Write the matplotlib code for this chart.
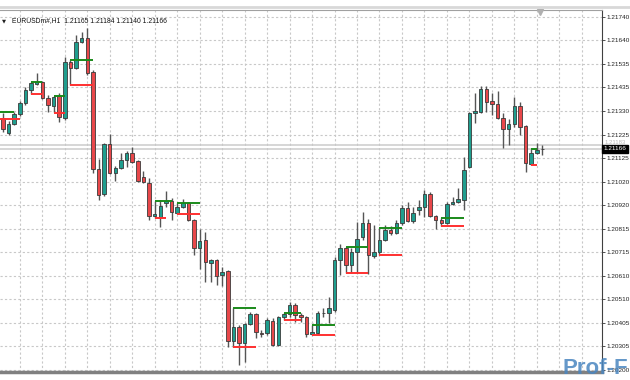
import matplotlib
matplotlib.use("Agg")
import matplotlib.pyplot as plt
import numpy as np

symbol_title = "EURUSDm#,H1  1.21165 1.21184 1.21140 1.21166"

opens = [1.21301, 1.21236, 1.21275, 1.21319, 1.21366, 1.21423, 1.21449, 1.21458, 1.21388, 1.21353,
         1.21397, 1.21301, 1.21545, 1.21519, 1.21632, 1.21650, 1.21502, 1.21079, 1.20969, 1.21188,
         1.21061, 1.21083, 1.21118, 1.21148, 1.21113, 1.21044, 1.21017, 1.20873, 1.20869, 1.20930,
         1.20939, 1.20887, 1.20913, 1.20930, 1.20856, 1.20734, 1.20769, 1.20669, 1.20682, 1.20616,
         1.20633, 1.20328, 1.20389, 1.20320, 1.20402, 1.20446, 1.20363, 1.20363, 1.20416, 1.20311,
         1.20433, 1.20446, 1.20486, 1.20442, 1.20433, 1.20359, 1.20363, 1.20451, 1.20451, 1.20464,
         1.20682, 1.20734, 1.20660, 1.20717, 1.20782, 1.20843, 1.20699, 1.20717, 1.20769, 1.20813,
         1.20800, 1.20843, 1.20909, 1.20852, 1.20900, 1.20913, 1.20970, 1.20873, 1.20856, 1.20843,
         1.20926, 1.20935, 1.20943, 1.21087, 1.21323, 1.21327, 1.21427, 1.21375, 1.21362, 1.21301,
         1.21253, 1.21275, 1.21353, 1.21266, 1.21100, 1.21148, 1.21165]
highs = [1.21323, 1.21288, 1.21327, 1.21375, 1.21436, 1.21458, 1.21497, 1.21462, 1.21401, 1.21397,
         1.21410, 1.21567, 1.21554, 1.21663, 1.21676, 1.21693, 1.21510, 1.21122, 1.21192, 1.21231,
         1.21092, 1.21148, 1.21157, 1.21174, 1.21118, 1.21070, 1.21039, 1.20939, 1.20943, 1.20983,
         1.20952, 1.20930, 1.20948, 1.20935, 1.20861, 1.20817, 1.20804, 1.20686, 1.20686, 1.20651,
         1.20638, 1.20472, 1.20398, 1.20407, 1.20455, 1.20451, 1.20377, 1.20429, 1.20429, 1.20438,
         1.20451, 1.20499, 1.20494, 1.20451, 1.20438, 1.20398, 1.20459, 1.20472, 1.20520, 1.20695,
         1.20752, 1.20738, 1.20734, 1.20848, 1.20891, 1.20861, 1.20834, 1.20821, 1.20834, 1.20830,
         1.20856, 1.20922, 1.20935, 1.20913, 1.20943, 1.20987, 1.20978, 1.20878, 1.20865, 1.20935,
         1.20956, 1.20996, 1.21131, 1.21327, 1.21410, 1.21441, 1.21441, 1.21410, 1.21419, 1.21323,
         1.21296, 1.21393, 1.21371, 1.21270, 1.21165, 1.21192, 1.21184]
lows = [1.21240, 1.21227, 1.21271, 1.21310, 1.21358, 1.21406, 1.21445, 1.21384, 1.21327, 1.21327,
        1.21283, 1.21292, 1.21445, 1.21515, 1.21628, 1.21488, 1.21061, 1.20943, 1.20961, 1.21057,
        1.21026, 1.21079, 1.21087, 1.21105, 1.21022, 1.21017, 1.20856, 1.20865, 1.20826, 1.20913,
        1.20856, 1.20882, 1.20908, 1.20852, 1.20704, 1.20643, 1.20586, 1.20586, 1.20573, 1.20568,
        1.20302, 1.20302, 1.20224, 1.20237, 1.20398, 1.20342, 1.20346, 1.20355, 1.20307, 1.20307,
        1.20420, 1.20433, 1.20411, 1.20411, 1.20346, 1.20355, 1.20359, 1.20433, 1.20407, 1.20455,
        1.20616, 1.20625, 1.20625, 1.20625, 1.20769, 1.20621, 1.20691, 1.20704, 1.20765, 1.20791,
        1.20795, 1.20834, 1.20848, 1.20843, 1.20878, 1.20869, 1.20869, 1.20817, 1.20830, 1.20839,
        1.20922, 1.20930, 1.20900, 1.21083, 1.21279, 1.21323, 1.21327, 1.21314, 1.21296, 1.21170,
        1.21183, 1.21262, 1.21227, 1.21065, 1.21096, 1.21144, 1.21140]
closes = [1.21253, 1.21275, 1.21319, 1.21366, 1.21423, 1.21454, 1.21458, 1.21388, 1.21358, 1.21393,
          1.21305, 1.21545, 1.21519, 1.21632, 1.21650, 1.21497, 1.21079, 1.20965, 1.21188, 1.21061,
          1.21083, 1.21118, 1.21148, 1.21109, 1.21026, 1.21022, 1.20873, 1.20882, 1.20917, 1.20939,
          1.20891, 1.20913, 1.20930, 1.20856, 1.20734, 1.20765, 1.20673, 1.20682, 1.20612, 1.20629,
          1.20328, 1.20389, 1.20320, 1.20402, 1.20446, 1.20368, 1.20361, 1.20420, 1.20311, 1.20433,
          1.20446, 1.20486, 1.20442, 1.20433, 1.20359, 1.20368, 1.20451, 1.20450, 1.20472, 1.20682,
          1.20734, 1.20660, 1.20717, 1.20773, 1.20843, 1.20704, 1.20717, 1.20769, 1.20813, 1.20800,
          1.20843, 1.20909, 1.20852, 1.20887, 1.20913, 1.20970, 1.20873, 1.20856, 1.20843, 1.20926,
          1.20935, 1.20948, 1.21074, 1.21323, 1.21332, 1.21427, 1.21371, 1.21362, 1.21301, 1.21253,
          1.21275, 1.21353, 1.21262, 1.21105, 1.21148, 1.21161, 1.21166]

# indicator levels: (start bar, end bar, price)
green_levels = [(-1, 2, 1.21326), (5, 7, 1.21458), (9, 11, 1.21397), (12, 16, 1.21554),
                (27, 30, 1.20939), (31, 35, 1.20930), (41, 45, 1.20472), (50, 53, 1.20451),
                (55, 59, 1.20398), (61, 65, 1.20738), (67, 71, 1.20821), (78, 82, 1.20865),
                (94, 95, 1.21165)]
red_levels = [(-1, 3, 1.21297), (5, 7, 1.21406), (9, 11, 1.21323), (12, 16, 1.21445),
              (27, 29, 1.20865), (31, 35, 1.20882), (41, 45, 1.20302), (50, 53, 1.20420),
              (55, 59, 1.20355), (61, 65, 1.20625), (67, 71, 1.20704), (78, 82, 1.20830),
              (94, 95, 1.21096)]

ytick_values = [1.21740, 1.21640, 1.21535, 1.21435, 1.21330, 1.21225, 1.21125, 1.21020,
                1.20920, 1.20815, 1.20715, 1.20610, 1.20510, 1.20405, 1.20305, 1.20200]
bid_price = 1.21166
ask_price = 1.21183

BULL = "#1f9e8e"
BEAR = "#e8474a"
EDGE = "#3a3a3a"
FONT = "Liberation Sans"

fig = plt.figure(figsize=(6.3, 3.8), dpi=100)
ax = fig.add_axes([0.0, 0.021, 0.9556, 0.9526])

n = len(opens)
x = np.arange(n)
o = np.array(opens); h = np.array(highs); l = np.array(lows); c = np.array(closes)
up = c >= o

ax.vlines(x, l, h, color="#555555", lw=1.0, zorder=3)
bottoms = np.minimum(o, c)
heights = np.maximum(np.abs(c - o), 0.000015)
ax.bar(x[up], heights[up], bottom=bottoms[up], width=0.62, color=BULL,
       edgecolor=EDGE, lw=0.6, zorder=4)
ax.bar(x[~up], heights[~up], bottom=bottoms[~up], width=0.62, color=BEAR,
       edgecolor=EDGE, lw=0.6, zorder=4)

for s, e, p in green_levels:
    ax.hlines(p, s, e, color="#1a8a1a", lw=1.4, zorder=5)
for s, e, p in red_levels:
    ax.hlines(p, s, e, color="#ff3030", lw=1.4, zorder=5)

# bid / ask lines
ax.axhline(ask_price, color="#d0d0d0", lw=1.2, zorder=1)
ax.axhline(bid_price, color="#d0d0d0", lw=1.2, zorder=1)

ax.set_xlim(-0.53, 106.6)
ax.set_ylim(1.20193, 1.21772)

ax.set_xticks(np.arange(3, 107, 4))
ax.set_yticks(ytick_values)
ax.grid(True, color="#c8c8c8", ls=(0, (2, 2)), lw=0.8, zorder=0)
ax.tick_params(axis="x", length=0, labelbottom=False)
ax.yaxis.tick_right()
ax.tick_params(axis="y", length=2, width=0.6, color="#333333", labelsize=4.6,
               labelcolor="#222222", pad=1.0)
ax.set_yticklabels([f"{v:.5f}" for v in ytick_values], family=FONT)
ax.spines["left"].set_visible(False)
ax.spines["top"].set_color("#a0a0a0")
ax.spines["bottom"].set_color("#808080")
ax.spines["bottom"].set_linewidth(2.5)
ax.spines["right"].set_color("#404040")

# top window band
fig.add_artist(plt.Line2D([0, 1], [0.982, 0.982], transform=fig.transFigure,
                          color="#d8d8d8", lw=2))

ax.text(0.004, 0.978, "\u25bc", transform=ax.transAxes, fontsize=3.8, va="top", ha="left",
        color="#222222")
ax.text(0.02, 0.982, symbol_title, transform=ax.transAxes, fontsize=4.9,
        va="top", ha="left", color="#111111", family=FONT)

# chart-shift marker
ax.plot([95.6], [1.21765], marker="v", ms=4, color="#b0b0b0", clip_on=False, zorder=6)

ax.annotate(f"{bid_price:.5f}", xy=(1.0, bid_price), xycoords=("axes fraction", "data"),
            xytext=(1.2, 0), textcoords="offset points", fontsize=4.6, color="white",
            va="center", ha="left", family=FONT,
            bbox=dict(boxstyle="square,pad=0.2", fc="black", ec="black"))
ax.annotate(f"{ask_price:.5f}", xy=(1.0, ask_price), xycoords=("axes fraction", "data"),
            xytext=(2.0, 1.5), textcoords="offset points", fontsize=4.3, color="#b8b8b8",
            va="center", ha="left", family=FONT, zorder=1)

fig.text(0.893, 0.003, "Prof-F", fontsize=16, color="#4a86c0", alpha=0.85,
         fontweight="bold", ha="left", va="bottom", family=FONT)

fig.savefig("out.png", dpi=100)
